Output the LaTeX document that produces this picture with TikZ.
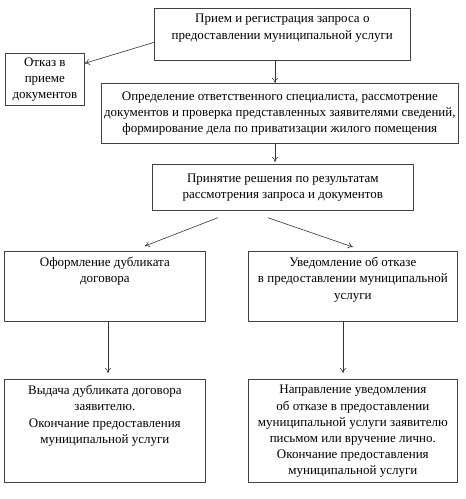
\documentclass[tikz,border=0pt]{standalone}
\usepackage{fontspec}
\setmainfont{Liberation Serif}
\usetikzlibrary{arrows.meta,positioning,calc}
\newcommand \flowbox[7]
{
\node[box] (#1) at (#2,#3)
  {\parbox[t][\dimexpr#5pt-12pt\relax][#6]{\dimexpr#4pt-4pt\relax}{\centering #7}};
}

\begin{document}
\begin{tikzpicture}[x=1pt, y=-1pt, line join=round,
  box/.style={draw=black!75, line width=0.7pt, inner xsep=2pt, inner ysep=6pt,
    anchor=north west, font=\fontsize{13}{16.2}\selectfont},
  flow/.style={draw=black!80, line width=0.6pt, -{To[length=5pt,width=6pt]}}]
\useasboundingbox (0,0) rectangle (466,499);
\flowbox{reg}{154}{8}{256}{52}{t}{Прием и регистрация запроса о\\предоставлении муниципальной услуги}
\flowbox{otkaz}{5}{53}{79}{52}{c}{Отказ в\\приеме\\документов}
\flowbox{check}{101}{83}{357}{60}{c}{Определение ответственного специалиста, рассмотрение\\документов и проверка представленных заявителями сведений,\\формирование дела по приватизации жилого помещения}
\flowbox{dec}{152}{164}{261}{46}{c}{Принятие решения по результатам\\рассмотрения запроса и документов}
\flowbox{dup}{4}{251}{201}{70}{t}{Оформление дубликата\\договора}
\flowbox{refuse}{248}{251}{209}{70}{t}{Уведомление об отказе\\в предоставлении муниципальной\\услуги}
\flowbox{issue}{4}{379}{201}{103}{t}{Выдача дубликата договора\\заявителю.\\Окончание предоставления\\муниципальной услуги}
\flowbox{notify}{248}{379}{209}{103}{t}{Направление уведомления\\об отказе в предоставлении\\муниципальной услуги заявителю\\письмом или вручение лично.\\Окончание предоставления\\муниципальной услуги}
\coordinate (mid) at (275,0);
\coordinate (left) at (108,0);
\coordinate (right) at (343,0);
\draw[flow] ([yshift=-8pt]reg.west) -- ([yshift=16pt]otkaz.east);
\draw[flow] (reg.south -| mid) -- (check.north -| mid);
\draw[flow] (check.south -| mid) -- ([yshift=2pt]dec.north -| mid);
\draw[flow] ([shift={(-65pt,-7pt)}]dec.south) -- ([shift={(40pt,5pt)}]dup.north);
\draw[flow] ([shift={(-15pt,-7pt)}]dec.south) -- ([yshift=4pt]refuse.north);
\draw[flow] (dup.south -| left) -- ([yshift=6pt]issue.north -| left);
\draw[flow] (refuse.south -| right) -- ([yshift=6pt]notify.north -| right);
\end{tikzpicture}
\end{document}
